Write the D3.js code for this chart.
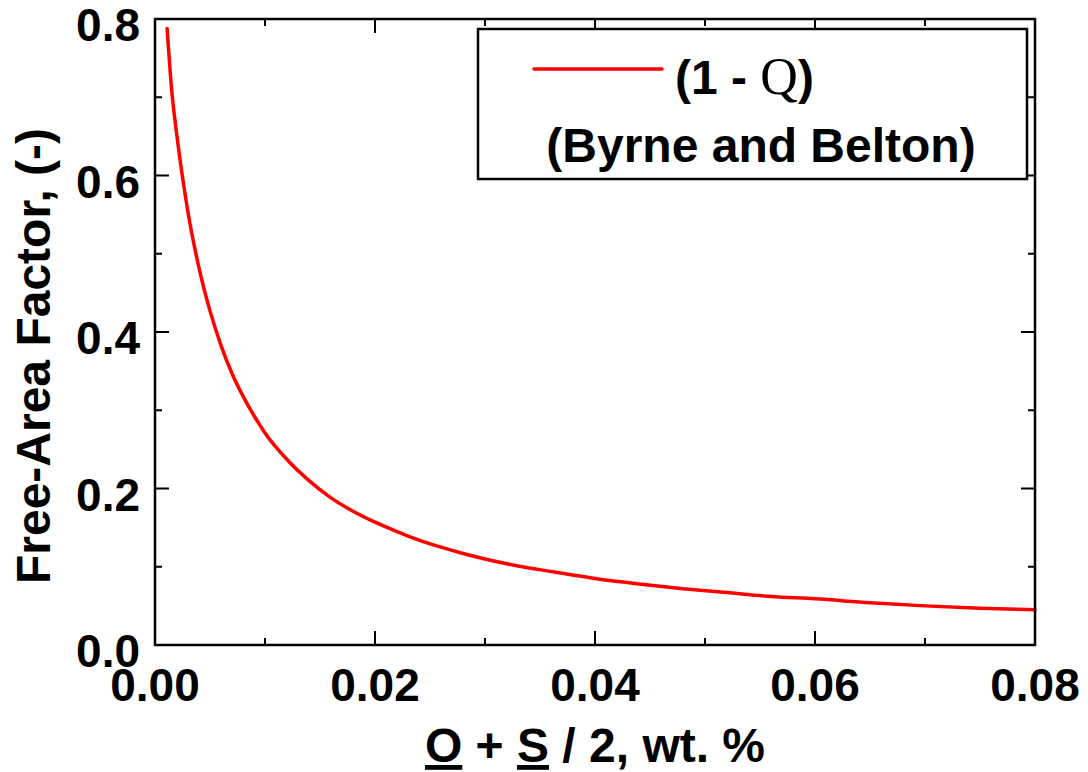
<!DOCTYPE html>
<html>
<head>
<meta charset="utf-8">
<script src="https://cdn.jsdelivr.net/npm/d3@7"></script>
<style>
  html, body { margin: 0; padding: 0; background: #fff; }
  svg { display: block; }
  text { font-family: "Liberation Sans", Arial, sans-serif; font-weight: bold; fill: #000; }
</style>
</head>
<body>
<svg id="chart" width="1088" height="772"></svg>
<script>
// ---- data ----
const concentration = [0.0011, 0.0015, 0.002, 0.0025, 0.003, 0.004, 0.005, 0.006, 0.007, 0.008, 0.009, 0.010,
  0.012, 0.014, 0.016, 0.018, 0.020, 0.022, 0.024, 0.026, 0.028, 0.030, 0.033, 0.036, 0.040,
  0.044, 0.048, 0.052, 0.056, 0.060, 0.065, 0.070, 0.075, 0.080];
const freeArea = [0.788, 0.712, 0.650, 0.598, 0.553, 0.482, 0.427, 0.383, 0.347, 0.318, 0.293, 0.271,
  0.237, 0.210, 0.188, 0.171, 0.157, 0.145, 0.134, 0.125, 0.117, 0.110, 0.101, 0.094, 0.085,
  0.078, 0.072, 0.067, 0.062, 0.059, 0.054, 0.050, 0.047, 0.045];
const xMajorTicks = [0, 0.02, 0.04, 0.06, 0.08];
const xMinorTicks = [0.01, 0.03, 0.05, 0.07];
const xTickLabels = ["0.00", "0.02", "0.04", "0.06", "0.08"];
const yMajorTicks = [0, 0.2, 0.4, 0.6, 0.8];
const yMinorTicks = [0.1, 0.3, 0.5, 0.7];
const yTickLabels = ["0.0", "0.2", "0.4", "0.6", "0.8"];
const seriesName = "(1 - ";
const seriesSymbol = "Q";
const seriesSource = "(Byrne and Belton)";
const yTitle = "Free-Area Factor, (-)";

// ---- layout ----
const L = 155, R = 1035, T = 19, B = 645;
const svg = d3.select("#chart");
const x = d3.scaleLinear().domain([0, 0.08]).range([L, R]);
const y = d3.scaleLinear().domain([0, 0.8]).range([B, T]);

const majorLen = 14, minorLen = 7;
const tickG = svg.append("g").attr("stroke", "#000").attr("stroke-width", 2);
// bottom & top ticks
[[xMajorTicks, majorLen], [xMinorTicks, minorLen]].forEach(([vals, len]) => {
  tickG.selectAll(null).data(vals).enter().append("line")
    .attr("x1", d => x(d)).attr("x2", d => x(d)).attr("y1", B).attr("y2", B - len);
  tickG.selectAll(null).data(vals).enter().append("line")
    .attr("x1", d => x(d)).attr("x2", d => x(d)).attr("y1", T).attr("y2", T + len);
});
// left & right ticks
[[yMajorTicks, majorLen], [yMinorTicks, minorLen]].forEach(([vals, len]) => {
  tickG.selectAll(null).data(vals).enter().append("line")
    .attr("y1", d => y(d)).attr("y2", d => y(d)).attr("x1", L).attr("x2", L + len);
  tickG.selectAll(null).data(vals).enter().append("line")
    .attr("y1", d => y(d)).attr("y2", d => y(d)).attr("x1", R).attr("x2", R - len);
});

// curve
const line = d3.line().x((d, i) => x(concentration[i])).y(d => y(d)).curve(d3.curveMonotoneX);
svg.append("path").datum(freeArea)
  .attr("d", line).attr("fill", "none").attr("stroke", "#ff0000")
  .attr("stroke-width", 3.5).attr("stroke-linecap", "round").attr("stroke-linejoin", "round");

// frame
svg.append("rect").attr("x", L).attr("y", T).attr("width", R - L).attr("height", B - T)
  .attr("fill", "none").attr("stroke", "#000").attr("stroke-width", 2.5);

// tick labels
svg.selectAll(null).data(xMajorTicks).enter().append("text")
  .attr("x", d => x(d)).attr("y", 701).attr("text-anchor", "middle")
  .attr("font-size", 46).text((d, i) => xTickLabels[i]);
svg.selectAll(null).data(yMajorTicks).enter().append("text")
  .attr("x", 140).attr("y", d => y(d) + 22).attr("text-anchor", "end")
  .attr("font-size", 46).text((d, i) => yTickLabels[i]);

// x title with underlines
const xt = svg.append("text").attr("x", (L + R) / 2).attr("y", 762)
  .attr("text-anchor", "middle").attr("font-size", 48);
xt.append("tspan").attr("text-decoration", "underline").text("O");
xt.append("tspan").text(" + ");
xt.append("tspan").attr("text-decoration", "underline").text("S");
xt.append("tspan").text(" / 2, wt. %");

// y title
svg.append("text").attr("transform", `translate(50, ${(T + B) / 2 + 24}) rotate(-90)`)
  .attr("text-anchor", "middle").attr("font-size", 48).text(yTitle);

// legend
svg.append("rect").attr("x", 478).attr("y", 29).attr("width", 549).attr("height", 150)
  .attr("fill", "#fff").attr("stroke", "#000").attr("stroke-width", 2.5);
svg.append("line").attr("x1", 534).attr("x2", 662).attr("y1", 69).attr("y2", 69)
  .attr("stroke", "#ff0000").attr("stroke-width", 3.5).attr("stroke-linecap", "round");
const lt = svg.append("text").attr("x", 675).attr("y", 94).attr("font-size", 48);
lt.append("tspan").text(seriesName);
lt.append("tspan").attr("font-family", "'Liberation Serif', 'DejaVu Serif', serif")
  .attr("font-weight", "normal").attr("font-size", 52).text(seriesSymbol);
lt.append("tspan").text(")");
svg.append("text").attr("x", 761).attr("y", 162).attr("text-anchor", "middle")
  .attr("font-size", 48).text(seriesSource);
</script>
</body>
</html>
